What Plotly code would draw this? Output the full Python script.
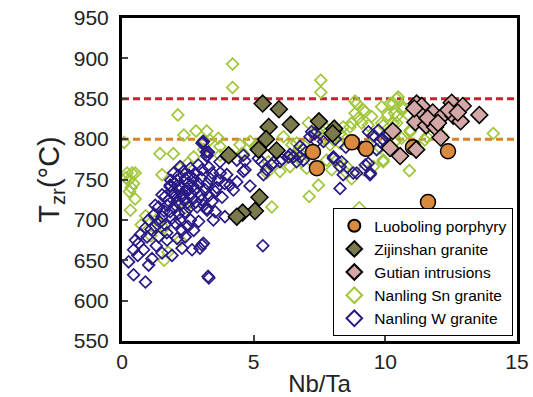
import plotly.graph_objects as go

# Nanling Sn granite (Nb/Ta, Tzr)
sn_x = [4.2, 4.2, 7.55, 7.55, 2.12, 2.35, 2.81, 3.22, 3.11, 0.08, 1.44, 1.95,
        0.19, 0.38, 0.5, 0.25, 0.44, 0.28, 0.5, 0.32, 0.73, 0.15, 0.35,
        1.52, 1.6, 2.72, 3.1, 2.2, 3.72, 3.66, 3.72, 4.48, 5.05, 5.49, 5.56, 5.69,
        3.34, 4.61, 6.13, 6.63, 6.63, 4.86, 4.55, 4.17, 6.0, 6.38,
        8.91, 9.23, 8.85, 8.72, 9.1, 9.48, 9.86, 10.18, 10.43, 9.92, 8.4, 8.28,
        7.08, 7.39, 7.65, 6.95, 6.83, 7.01, 7.96, 8.15, 8.53, 9.55, 9.92, 7.46,
        7.11, 9.01, 8.72, 6.45, 6.51, 9.55, 8.85, 9.17, 10.43, 10.68, 8.97, 9.35,
        9.86, 10.3, 10.1, 8.66, 8.4, 8.28, 7.5, 7.77, 8.03, 9.8, 10.05, 10.43,
        10.94, 11.5, 8.53, 9.17, 9.92, 10.49, 10.3, 10.68, 10.87, 10.35, 10.43,
        10.94, 10.62, 11.57, 12.14, 14.1, 10.91, 7.9, 7.77, 7.3,
        1.3, 1.6, 2.0, 2.5, 1.1, 0.9, 2.4, 2.21, 1.75]
sn_y = [893, 864, 873, 858, 830, 805, 810, 810, 799, 796, 782, 782,
        758, 758, 758, 749, 745, 735, 726, 712, 694, 752, 740,
        756, 650, 778, 787, 764, 780, 801, 791, 793, 791, 758, 772, 716,
        799, 782, 803, 780, 795, 797, 782, 780, 760, 766,
        844, 834, 832, 820, 820, 828, 840, 844, 828, 817, 815, 807,
        820, 811, 801, 791, 772, 764, 762, 774, 766, 766, 772, 743,
        729, 715, 751, 793, 780, 803, 847, 836, 850, 837, 826, 817,
        820, 820, 830, 815, 803, 795, 813, 813, 799, 789, 807, 799,
        811, 799, 758, 762, 774, 852, 844, 840, 830, 832, 820,
        809, 801, 803, 805, 807, 761, 793, 774, 785,
        700, 690, 745, 770, 680, 705, 715, 675, 660]

# Nanling W granite
w_x = [3.27, 3.3, 0.44, 0.89, 0.25, 0.44, 0.51, 0.89, 1.01, 1.26, 1.52, 1.83,
       1.96, 2.21, 2.6, 3.04, 3.35, 3.67, 3.23, 3.04, 2.72, 3.04, 2.66, 2.28,
       1.9, 1.52, 1.14, 1.01, 0.82, 0.63, 0.95, 1.39, 1.71, 2.09, 2.4, 1.26,
       1.64, 2.02, 2.28, 1.2, 1.52, 1.83, 2.15, 2.6, 2.91, 1.39, 1.71, 2.09,
       2.47, 2.85, 3.23, 3.54, 1.64, 1.96, 2.28, 2.66, 3.04, 3.42, 1.83, 2.15,
       2.47, 2.78, 3.16, 3.54, 2.09, 2.4, 2.72, 2.34, 2.78, 3.42, 3.73, 3.23,
       1.9, 2.0, 2.2, 2.3, 2.5, 2.6, 2.9, 3.0, 2.35, 2.55, 2.0, 1.75, 2.2,
       2.8, 3.1, 2.4, 1.9, 1.45, 1.1, 0.7, 0.6, 1.3, 1.7, 2.5, 2.2, 1.6, 3.3,
       3.6, 3.8, 3.9, 2.05, 2.45, 2.7, 1.85, 2.15, 2.55, 3.0, 2.9, 3.3,
       3.22, 4.67, 5.35, 4.86, 3.91, 3.47, 3.22, 2.96, 4.1, 4.23, 3.98, 3.72,
       4.61, 5.49, 6.63, 3.09, 3.28, 4.36, 4.36, 5.37, 5.3, 5.69, 6.0, 6.32,
       3.09, 6.51, 6.76, 7.14, 7.33, 7.65, 8.03, 8.34, 8.4, 8.28, 8.91, 9.35,
       9.42, 9.55, 9.74, 9.8, 9.67, 6.89, 9.36, 7.2, 7.39, 6.89, 6.76, 6.38,
       6.07, 5.75, 5.18, 4.67, 4.61, 8.03, 8.28, 8.78, 9.24, 9.43, 3.06, 3.2,
       8.5, 8.1, 9.1, 9.9, 10.1]
w_y = [630, 628, 632, 623, 648, 663, 675, 690, 700, 718, 731, 743,
       758, 766, 764, 762, 751, 749, 780, 795, 687, 669, 663, 665,
       656, 659, 652, 644, 663, 671, 679, 679, 675, 677, 679, 692,
       694, 696, 687, 706, 704, 710, 708, 700, 698, 716, 718, 723,
       721, 716, 712, 710, 729, 731, 729, 727, 725, 723, 741, 737,
       739, 737, 737, 735, 749, 751, 751, 760, 758, 758, 758, 745,
       735, 745, 742, 733, 745, 733, 745, 731, 725, 715, 715, 724, 719,
       722, 718, 710, 702, 697, 688, 682, 656, 668, 684, 692, 700, 711, 730,
       740, 728, 745, 730, 735, 742, 749, 755, 755, 752, 768, 765,
       779, 762, 668, 742, 704, 700, 714, 665, 743, 737, 756, 772,
       780, 762, 772, 797, 784, 774, 747, 756, 772, 768, 772, 778,
       671, 778, 791, 803, 807, 797, 778, 772, 756, 739, 758, 770,
       756, 805, 811, 797, 787, 774, 809, 809, 797, 787, 778, 781,
       775, 771, 776, 773, 760, 776, 766, 758, 768, 758, 796, 784,
       790, 800, 790, 800, 805]

# Zijinshan granite
zj_x = [5.34, 5.96, 5.57, 6.41, 5.47, 5.19, 5.87, 4.05, 5.22, 5.05, 4.58, 4.36,
        7.48, 8.06, 8.0]
zj_y = [844, 837, 815, 818, 800, 787, 786, 780, 728, 711, 709, 704,
        822, 813, 807]

# Gutian intrusions
gt_x = [11.19, 11.38, 12.52, 12.94, 13.57, 11.29, 11.8, 12.2, 12.58, 11.14, 11.55,
        11.89, 12.86, 10.28, 12.1, 11.17, 10.56, 10.18, 11.6, 12.4, 12.75, 11.1, 12.0]
gt_y = [844, 841, 845, 841, 830, 832, 833, 830, 829, 821, 817,
        815, 822, 810, 802, 787, 779, 789, 826, 836, 833, 838, 820]

# Luoboling porphyry
lb_x = [7.25, 7.4, 8.73, 9.27, 11.05, 12.38, 11.62]
lb_y = [784, 764, 796, 788, 790, 785, 722]

# reference lines
ref_x = [0, 15]
red_y = [850, 850]
orange_y = [800, 800]

x_ticks = [0, 5, 10, 15]
y_ticks = [550, 600, 650, 700, 750, 800, 850, 900, 950]

fig = go.Figure()
fig.add_trace(go.Scatter(x=ref_x, y=red_y, mode="lines", showlegend=False,
                         line=dict(color="#c1272d", width=3, dash="7px,4px"), hoverinfo="skip"))
fig.add_trace(go.Scatter(x=ref_x, y=orange_y, mode="lines", showlegend=False,
                         line=dict(color="#d9822b", width=3, dash="7px,4px"), hoverinfo="skip"))
fig.add_trace(go.Scatter(x=sn_x, y=sn_y, mode="markers", name="Nanling Sn granite", legendrank=4,
                         marker=dict(symbol="diamond-open", size=9, color="#a0c63a", line=dict(width=1.7))))
fig.add_trace(go.Scatter(x=w_x, y=w_y, mode="markers", name="Nanling W granite", legendrank=5,
                         marker=dict(symbol="diamond-open", size=9, color="#2a1a86", line=dict(width=1.7))))
fig.add_trace(go.Scatter(x=lb_x, y=lb_y, mode="markers", name="Luoboling porphyry", legendrank=1,
                         marker=dict(symbol="circle", size=15, color="#d98a3e", line=dict(color="black", width=1.5))))
fig.add_trace(go.Scatter(x=zj_x, y=zj_y, mode="markers", name="Zijinshan granite", legendrank=2,
                         marker=dict(symbol="diamond", size=13, color="#7b7a4c", line=dict(color="black", width=1.5))))
fig.add_trace(go.Scatter(x=gt_x, y=gt_y, mode="markers", name="Gutian intrusions", legendrank=3,
                         marker=dict(symbol="diamond", size=13, color="#d4a7a7", line=dict(color="black", width=1.5))))

fig.update_layout(
    width=533, height=397,
    margin=dict(l=122, r=16, t=18, b=56),
    paper_bgcolor="white", plot_bgcolor="white",
    font=dict(family="Liberation Sans, Arial", color="#222", size=21),
    legend=dict(x=0.535, y=0.015, xanchor="left", yanchor="bottom",
                bgcolor="white", bordercolor="black", borderwidth=1,
                font=dict(size=15.5, color="black"), tracegroupgap=0,
                itemsizing="constant", itemwidth=30),
    xaxis=dict(range=[0, 15], tickvals=x_ticks, ticks="inside", ticklen=6, tickwidth=2,
               automargin=False,
               showline=True, linecolor="black", linewidth=3, mirror=True, showgrid=False,
               zeroline=False, title=dict(text="Nb/Ta", font=dict(size=24), standoff=4)),
    yaxis=dict(range=[550, 950], tickvals=y_ticks, ticks="inside", ticklen=6, tickwidth=2,
               ticklabelstandoff=6, automargin=False,
               showline=True, linecolor="black", linewidth=3, mirror=True, showgrid=False,
               zeroline=False, title=dict(text="T<sub>zr</sub>(°C)", font=dict(size=29), standoff=6)),
)

fig.write_html("out.html")
